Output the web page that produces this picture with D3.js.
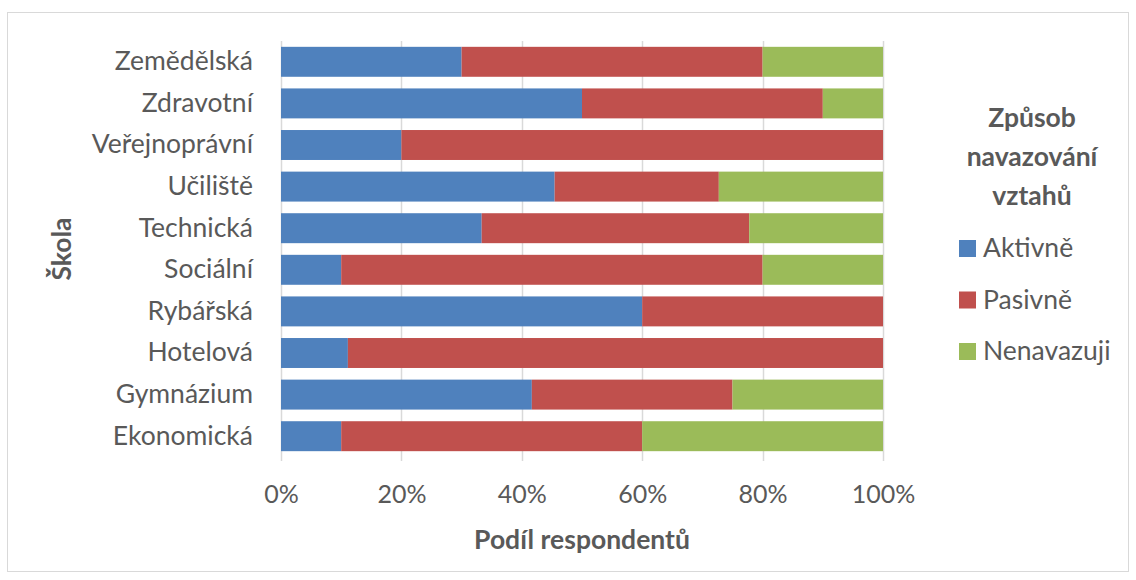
<!DOCTYPE html>
<html>
<head>
<meta charset="utf-8">
<script src="https://cdn.jsdelivr.net/npm/d3@7"></script>
<style>
  body { margin: 0; background: #fff; }
  svg { font-family: Lato, Carlito, Calibri, sans-serif; }
</style>
</head>
<body>
<svg width="1136" height="580"></svg>
<script>
var svg = d3.select("svg"),
    width = +svg.attr("width"),
    height = +svg.attr("height");

// data (shares, top to bottom)
var schools = ["Zemědělská", "Zdravotní", "Veřejnoprávní", "Učiliště", "Technická",
               "Sociální", "Rybářská", "Hotelová", "Gymnázium", "Ekonomická"];
var aktivne     = [0.30, 0.50, 0.20, 5/11, 3/9, 0.10, 0.60, 1/9, 5/12, 0.10];
var pasivne     = [0.50, 0.40, 0.80, 3/11, 4/9, 0.70, 0.40, 8/9, 4/12, 0.50];
var nenavazuji  = [0.20, 0.10, 0.00, 3/11, 2/9, 0.20, 0.00, 0.00, 3/12, 0.40];
var seriesNames = ["Aktivně", "Pasivně", "Nenavazuji"];
var colors = ["#4f81bd", "#c0504d", "#9bbb59"];
var xTicks = [0, 0.2, 0.4, 0.6, 0.8, 1];

var rows = schools.map(function(s, i) {
  return {school: s, "Aktivně": aktivne[i], "Pasivně": pasivne[i], "Nenavazuji": nenavazuji[i]};
});

var stacked = d3.stack().keys(seriesNames)(rows);

var plot = {left: 281, right: 883, top: 41, bottom: 457};
var fs = 26.5;

// chart border
svg.append("rect")
  .attr("x", 7.5).attr("y", 12.5)
  .attr("width", 1121).attr("height", 559)
  .attr("fill", "none").attr("stroke", "#d9d9d9");

var x = d3.scaleLinear().domain([0, 1]).range([plot.left, plot.right]);
var y = d3.scaleBand().domain(schools).range([plot.top, plot.bottom]).paddingInner(0.28).paddingOuter(0.14);

// gridlines
svg.append("g")
  .selectAll("line")
  .data(xTicks)
  .enter().append("line")
    .attr("x1", function(d) { return Math.round(x(d)) + 0.5; })
    .attr("x2", function(d) { return Math.round(x(d)) + 0.5; })
    .attr("y1", plot.top)
    .attr("y2", plot.bottom + 4)
    .attr("stroke", "#d9d9d9")
    .attr("stroke-width", 1.5);

// bars
svg.append("g")
  .selectAll("g")
  .data(stacked)
  .enter().append("g")
    .attr("fill", function(d, i) { return colors[i]; })
  .selectAll("rect")
  .data(function(d) { return d; })
  .enter().append("rect")
    .attr("x", function(d) { return x(d[0]); })
    .attr("y", function(d) { return y(d.data.school); })
    .attr("width", function(d) { return x(d[1]) - x(d[0]); })
    .attr("height", y.bandwidth());

// x axis tick labels
var xAxis = d3.axisBottom(x).tickValues(xTicks).tickFormat(d3.format(".0%")).tickSize(0).tickPadding(0);
var gx = svg.append("g")
  .attr("transform", "translate(0," + (plot.bottom + 46) + ")")
  .call(xAxis);
gx.select(".domain").remove();
gx.selectAll("text")
  .attr("dy", 0)
  .attr("font-family", "Lato, Carlito, Calibri, sans-serif")
  .attr("font-size", 25)
  .attr("fill", "#595959");

// y axis labels
var yAxis = d3.axisLeft(y).tickSize(0).tickPadding(28);
var gy = svg.append("g")
  .attr("transform", "translate(" + plot.left + ",0)")
  .call(yAxis);
gy.select(".domain").remove();
gy.selectAll("text")
  .attr("font-family", "Lato, Carlito, Calibri, sans-serif")
  .attr("font-size", fs)
  .attr("fill", "#595959");

// axis titles
svg.append("text")
  .attr("x", (plot.left + plot.right) / 2)
  .attr("y", 549)
  .attr("text-anchor", "middle")
  .attr("font-size", fs)
  .attr("font-weight", "bold")
  .attr("fill", "#595959")
  .text("Podíl respondentů");

svg.append("text")
  .attr("transform", "translate(71," + ((plot.top + plot.bottom) / 2) + ") rotate(-90)")
  .attr("text-anchor", "middle")
  .attr("font-size", fs)
  .attr("font-weight", "bold")
  .attr("fill", "#595959")
  .text("Škola");

// legend
var legendTitle = ["Způsob", "navazování", "vztahů"];
svg.append("g")
  .selectAll("text")
  .data(legendTitle)
  .enter().append("text")
    .attr("x", 1032)
    .attr("y", function(d, i) { return 127 + i * 39; })
    .attr("text-anchor", "middle")
    .attr("font-size", fs)
    .attr("font-weight", "bold")
    .attr("fill", "#595959")
    .text(function(d) { return d; });

var legend = svg.append("g")
  .selectAll("g")
  .data(seriesNames)
  .enter().append("g")
    .attr("transform", function(d, i) { return "translate(959," + (248 + i * 51.5) + ")"; });

legend.append("rect")
  .attr("x", 0).attr("y", -8)
  .attr("width", 17).attr("height", 17)
  .attr("fill", function(d, i) { return colors[i]; });

legend.append("text")
  .attr("x", 24)
  .attr("y", 9)
  .attr("font-size", fs)
  .attr("fill", "#595959")
  .text(function(d) { return d; });
</script>
</body>
</html>
